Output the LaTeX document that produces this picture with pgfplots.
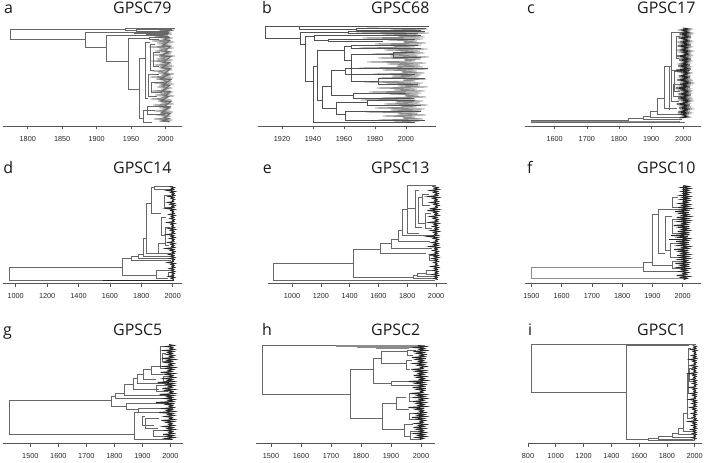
\documentclass[border=0pt]{standalone}
\usepackage{pgfplots}
\pgfplotsset{compat=1.18}
\usepackage{fontspec}
\setmainfont{Liberation Sans}
\newfontfamily\titlefont{Open Sans}
\definecolor{axgray}{HTML}{555555}
\definecolor{trdark}{HTML}{262626}
\definecolor{trmid}{HTML}{686868}
\definecolor{trlight}{HTML}{8C8C8C}
\pgfplotsset{
  treeax/.style={
    scale only axis, height=100bp, ymin=0, ymax=100,
    axis x line*=bottom, axis y line=none, ytick=\empty,
    xtick align=outside, major tick length=3.5bp,
    axis line style={draw=axgray, line width=0.6bp},
    tick style={draw=axgray, line width=0.6bp},
    xticklabel style={font=\fontsize{7.3}{8}\selectfont, text=black!85, yshift=-5bp, inner sep=1.5bp},
    /pgf/number format/assume math mode=true,
    /pgf/number format/set thousands separator={},
    clip=false, unbounded coords=jump,
    anchor=south west,
  },
  str/.style={draw=trmid, line width=0.6bp, no markers},
  thk/.style={draw=trdark, line width=0.95bp, no markers},
  thg/.style={draw=trlight, line width=0.8bp, no markers},
}
\tikzset{ttl/.style={anchor=base west, inner sep=0pt, font=\titlefont\fontsize{16}{18}\selectfont, text=black!90}}
\begin{document}
\begin{tikzpicture}
\useasboundingbox (0bp,0bp) rectangle (708bp,463bp);
% ---------- a GPSC79
\begin{axis}[treeax, at={(3bp,337bp)}, width=179bp, xmin=1764, xmax=2024, xtick={1800,1850,1900,1950,2000}]
\addplot[thg] coordinates {(1985,97)(2012,96)(1990,95)(2006,94)(1978,93)(2010,92)(1992,91)(2004,90)(1983,89)(2011,88)(1995,87)(2007,86)(1980,85)(2013,84)(1988,83)(2005,82)(1993,81)(2009,80)(1976,79)(2012,78)(1990,77)(2003,76)(1985,75)(2010,74)(1996,73)(2008,72)(1982,71)(2014,70)(1991,69)(2006,68)(1987,67)(2011,66)(1979,65)(2004,64)(1994,63)(2009,62)(1984,61)(2012,60)(1990,59)(2007,58)(1997,57)(2010,56)(1981,55)(2005,54)(1989,53)(2013,52)(1993,51)(2008,50)(1977,49)(2011,48)(1986,47)(2004,46)(1995,45)(2009,44)(1983,43)(2012,42)(1991,41)(2006,40)(1988,39)(2010,38)(1996,37)(2003,36)(1980,35)(2011,34)(1992,33)(2008,32)(1985,31)(2013,30)(1994,29)(2005,28)(1978,27)(2010,26)(1989,25)(2007,24)(1993,23)(2012,22)(1982,21)(2004,20)(1990,19)(2009,18)(1995,17)(2006,16)(1984,15)(2011,14)(1992,13)(2005,12)(1987,11)(2008,10)(1996,9)(2003,8)(1983,7)(2010,6)(1991,5)(2006,4)};
\addplot[thk, draw=trmid] coordinates {(1992,96)(2008,95.5)(1996,93.5)(2005,93)(1990,90)(2004,89.5)(1998,86)(2006,85.5)(1995,80)(2007,79.5)(1999,75)(2005,74.5)(1993,70)(2008,69.5)(1997,64)(2006,63.5)(1994,58)(2007,57.5)(1998,52)(2005,51.5)(1992,47)(2008,46.5)(1996,41)(2006,40.5)(1995,35)(2007,34.5)(1999,30)(2004,29.5)(1993,25)(2008,24.5)(1997,19)(2005,18.5)(1994,13)(2007,12.5)(1998,8)(2005,7.5)(1995,5)(2006,4.5)};
\addplot[str] coordinates {(1941,96.7)(1774,96.7)(1774,86.7)(1884,86.7)(0,nan)(1955,93.3)(1884,93.3)(1884,78.3)(1914,78.3)(0,nan)(1972,91)(1914,91)(1914,64.3)(1946,64.3)(0,nan)(1976,88)(1946,88)(1946,36.7)(1962,36.7)(0,nan)(1970,67.7)(1962,67.7)(1962,7.7)(1968,7.7)(0,nan)(2014,97.7)(1941,97.7)(1941,95.5)(1958,95.5)(0,nan)(2010,96.3)(1958,96.3)(1958,94.5)(2004,94.5)(0,nan)(2005,94)(1955,94)(1955,92.5)(2000,92.5)(0,nan)(2003,91.8)(1972,91.8)(1972,90.2)(1995,90.2)(0,nan)(2006,89)(1976,89)(1976,87)(1990,87)(0,nan)(1978,84)(1970,84)(1970,28)(1975,28)(0,nan)(1985,82)(1978,82)(1978,56)(1983,56)(0,nan)(1990,52)(1975,52)(1975,30)(1988,30)(0,nan)(1992,74)(1983,74)(1983,60)(1990,60)(0,nan)(1985,16)(1968,16)(1968,4)(1980,4)(0,nan)(2008,20)(1973,20)(1973,12)(2000,12)(0,nan)(1998,44)(1980,44)(1980,34)(1995,34)};
\end{axis}
% ---------- b GPSC68
\begin{axis}[treeax, at={(258bp,337bp)}, width=178bp, xmin=1904.5, xmax=2019.4, xtick={1920,1940,1960,1980,2000}]
\addplot[thg, line width=0.85bp] coordinates {(1975,98)(2014,97)(1990,96)(2010,95)(1968,94)(2015,93)(1985,92)(2008,91)(1995,90)(2012,89)(1972,88)(2011,87)(1988,86)(2007,85)(1998,84)(2013,83)(1980,82)(2010,81)(1992,80)(2006,79)(1970,78)(2014,77)(1986,76)(2009,75)(1996,74)(2012,73)(1978,72)(2008,71)(1990,70)(2015,69)(1982,68)(2010,67)(1999,66)(2006,65)(1975,64)(2013,63)(1988,62)(2009,61)(1994,60)(2011,59)(1970,58)(2014,57)(1985,56)(2007,55)(1997,54)(2012,53)(1979,52)(2010,51)(1991,50)(2008,49)(1983,48)(2013,47)(1998,46)(2006,45)(1973,44)(2011,43)(1987,42)(2009,41)(1995,40)(2014,39)(1981,38)(2007,37)(1992,36)(2012,35)(1976,34)(2010,33)(1989,32)(2008,31)(1999,30)(2013,29)(1984,28)(2006,27)(1971,26)(2011,25)(1993,24)(2009,23)(1986,22)(2014,21)(1997,20)(2007,19)(1980,18)(2012,17)(1990,16)(2010,15)(1974,14)(2008,13)(1995,12)(2013,11)(1985,10)(2006,9)(1998,8)(2011,7)(1982,6)(2009,5)(1992,4)};
\addplot[str, draw=trdark!80] coordinates {(1931,99.3)(1909,99.3)(1909,88)(1932,88)(0,nan)(2015,100)(1931,100)(1931,97)(1968,97)(0,nan)(2013,98)(1968,98)(1968,96)(2010,96)(0,nan)(1963,94)(1932,94)(1932,82)(1935,82)(0,nan)(2012,95)(1963,95)(1963,92.5)(2008,92.5)(0,nan)(1941,90)(1935,90)(1935,45)(1940,45)(0,nan)(2010,91)(1941,91)(1941,86)(1950,86)(0,nan)(2006,87)(1950,87)(1950,84.5)(1985,84.5)(0,nan)(1943,60)(1940,60)(1940,3.3)(2006,3.3)(0,nan)(1960,76)(1943,76)(1943,26)(1946,26)(0,nan)(1965,79.3)(1960,79.3)(1960,66)(1964.5,66)(0,nan)(2008,81)(1965,81)(1965,77.5)(2010,77.5)(0,nan)(1992,72)(1964.5,72)(1964.5,45)(1982,45)(0,nan)(1951.6,40)(1946,40)(1946,18)(1955,18)(0,nan)(1961,56)(1951.6,56)(1951.6,31)(1966,31)(0,nan)(1975,24)(1955,24)(1955,12)(1961,12)(0,nan)(2010,15)(1961,15)(1961,6)(2012,6)(0,nan)(2014,58)(1961,58)(1961,52)(2006,52)(0,nan)(2000,33)(1966,33)(1966,28)(2005,28)(0,nan)(2005,74)(1992,74)(1992,69)(2010,69)(0,nan)(2012,48)(1982,48)(1982,42)(2008,42)(0,nan)(2006,26)(1975,26)(1975,21)(2010,21)};
\end{axis}
% ---------- c GPSC17
\begin{axis}[treeax, at={(524.7bp,337bp)}, width=176bp, xmin=1507, xmax=2054, xtick={1600,1700,1800,1900,2000}]
\addplot[str] coordinates {(1830,5.6)(1526,5.6)(1526,3.6)(2005,3.6)(0,nan)(1875,7.5)(1830,7.5)(1830,4.8)(1990,4.8)(0,nan)(1898,10)(1875,10)(1875,6.2)(1995,6.2)(0,nan)(1918,15)(1898,15)(1898,8.5)(2000,8.5)(0,nan)(1940,28)(1918,28)(1918,11.5)(2000,11.5)(0,nan)(1962,60)(1940,60)(1940,18)(1980,18)(0,nan)(2005,93.7)(1962,93.7)(1962,24.3)(1985,24.3)(0,nan)(1990,90)(1978,90)(1978,68)(1988,68)(0,nan)(1995,55)(1972,55)(1972,35)(1990,35)(0,nan)(2000,42)(1968,42)(1968,30)(1995,30)(0,nan)(1955,59)(1955,16)(0,nan)(2022,56)(1962,56)};
\addplot[str, draw=trlight] coordinates {(1526,4.6)(1985,4.6)};
\addplot[thk] coordinates {(1998,98)(2020,97)(1992,96)(2016,95)(2000,94)(2022,93)(1988,92)(2018,91)(1996,90)(2024,89)(1985,88)(2015,87)(1999,86)(2021,85)(1990,84)(2017,83)(1995,82)(2023,81)(1982,80)(2019,79)(1997,78)(2014,77)(1989,76)(2022,75)(1993,74)(2018,73)(2001,72)(2020,71)(1980,70)(2016,69)(1994,68)(2024,67)(1987,66)(2019,65)(1998,64)(2015,63)(1991,62)(2021,61)(1984,60)(2017,59)(1996,58)(2023,57)(1978,56)(2018,55)(1992,54)(2020,53)(1999,52)(2014,51)(1986,50)(2022,49)(1994,48)(2016,47)(1981,46)(2019,45)(1997,44)(2024,43)(1989,42)(2017,41)(1993,40)(2021,39)(1976,38)(2015,37)(1990,36)(2020,35)(1998,34)(2018,33)(1985,32)(2023,31)(1995,30)(2016,29)(1983,28)(2019,27)(1992,26)(2022,25)(1999,24)(2015,23)(1979,22)(2020,21)(1994,20)(2017,19)(1987,18)(2021,17)(1996,16)(2014,15)(1984,14)(2018,13)(1991,12)(2012,11)(1998,10)(2016,9)(1988,8)};
\end{axis}
% ---------- d GPSC14
\begin{axis}[treeax, at={(3.3bp,179.5bp)}, width=178.7bp, xmin=921, xmax=2059, xtick={1000,1200,1400,1600,1800,2000}]
\addplot[str] coordinates {(1681,16.2)(962,16.2)(962,3.5)(2005,3.5)(0,nan)(1739,25.2)(1681,25.2)(1681,7.8)(1898,7.8)(0,nan)(1781,27)(1739,27)(1739,23.5)(1990,23.5)(0,nan)(1813,29)(1781,29)(1781,25.5)(1995,25.5)(0,nan)(1830,45)(1813,45)(1813,27.5)(1998,27.5)(0,nan)(1866,80)(1830,80)(1830,30)(1905,30)(0,nan)(1880,96.5)(1866,96.5)(1866,70)(1925,70)(0,nan)(2000,97.5)(1880,97.5)(1880,94)(2000,94)(0,nan)(1960,66)(1925,66)(1925,48)(1951,48)(0,nan)(1985,56)(1951,56)(1951,38)(1975,38)(0,nan)(1990,88)(1945,88)(1945,76)(1990,76)(0,nan)(1960,40)(1905,40)(1905,30)(1990,30)(0,nan)(1990,13)(1898,13)(1898,5)(1970,5)(0,nan)(2000,11)(1970,11)(1970,7)(2005,7)};
\addplot[str, draw=trdark] coordinates {(1558,3.5)(2005,3.5)};
\addplot[thk] coordinates {(1980,97)(2010,96)(1992,95)(2005,94)(1965,93)(2013,92)(1988,91)(2008,90)(1996,89)(2012,88)(1975,87)(2006,86)(1990,85)(2011,84)(1998,83)(2004,82)(1970,81)(2010,80)(1985,79)(2014,78)(1994,77)(2007,76)(1960,75)(2012,74)(1988,73)(2005,72)(1997,71)(2009,70)(1978,69)(2013,68)(1992,67)(2006,66)(1984,65)(2011,64)(1999,63)(2008,62)(1968,61)(2012,60)(1990,59)(2004,58)(1995,57)(2010,56)(1975,55)(2014,54)(1987,53)(2007,52)(1996,51)(2011,50)(1964,49)(2005,48)(1991,47)(2013,46)(1982,45)(2009,44)(1998,43)(2006,42)(1972,41)(2012,40)(1989,39)(2008,38)(1994,37)(2011,36)(1958,35)(2005,34)(1986,33)(2013,32)(1997,31)(2009,30)(1977,29)(2006,28)(1992,27)(2012,26)(1985,25)(2010,24)(1999,23)(2004,22)(1969,21)(2013,20)(1990,19)(2008,18)(1995,17)(2011,16)(1980,15)(2006,14)(1993,13)(2012,12)(1987,11)(2009,10)(1998,9)(2005,8)(1975,7)(2011,6)(1991,5)(2007,4)};
\end{axis}
% ---------- e GPSC13
\begin{axis}[treeax, at={(267.7bp,179.5bp)}, width=179bp, xmin=831, xmax=2074, xtick={1000,1200,1400,1600,1800,2000}]
\addplot[str] coordinates {(1426,20.2)(870,20.2)(870,3.6)(1990,3.6)(0,nan)(1611,34.5)(1426,34.5)(1426,6)(1840,6)(0,nan)(1687,40.2)(1611,40.2)(1611,30.5)(1930,30.5)(0,nan)(1738,44.5)(1687,44.5)(1687,35.5)(1970,35.5)(0,nan)(1768,52.8)(1738,52.8)(1738,42.2)(1960,42.2)(0,nan)(1803,74.5)(1768,74.5)(1768,47.8)(1985,47.8)(0,nan)(2000,97.8)(1803,97.8)(1803,50)(1880,50)(0,nan)(1803,75)(1856,75)(0,nan)(1880,93)(1856,93)(1856,56)(1900,56)(0,nan)(1903,86)(1880,86)(1880,60)(1926,60)(0,nan)(1950,89)(1903,89)(1903,78)(1960,78)(0,nan)(1965,70)(1926,70)(1926,55)(1975,55)(0,nan)(1870,8)(1840,8)(1840,5)(2005,5)(0,nan)(1935,10.5)(1870,10.5)(1870,6.8)(1995,6.8)(0,nan)(1985,13)(1935,13)(1935,8.8)(2000,8.8)(0,nan)(1990,28)(1950,28)(1950,23)(1985,23)};
\addplot[thk] coordinates {(1975,97)(2012,96)(1990,95)(2018,94)(1960,93)(2008,92)(1985,91)(2015,90)(1995,89)(2010,88)(1950,87)(2017,86)(1980,85)(2006,84)(1992,83)(2014,82)(1965,81)(2011,80)(1988,79)(2019,78)(1997,77)(2007,76)(1970,75)(2016,74)(1940,73)(2012,72)(1986,71)(2009,70)(1993,69)(2018,68)(1962,67)(2005,66)(1982,65)(2014,64)(1996,63)(2010,62)(1955,61)(2017,60)(1989,59)(2008,58)(1978,57)(2015,56)(1994,55)(2011,54)(1968,53)(2019,52)(1985,51)(2006,50)(1991,49)(2013,48)(1945,47)(2010,46)(1983,45)(2016,44)(1997,43)(2008,42)(1972,41)(2014,40)(1987,39)(2011,38)(1958,37)(2018,36)(1993,35)(2007,34)(1980,33)(2015,32)(1995,31)(2010,30)(1966,29)(2013,28)(1989,27)(2017,26)(1975,25)(2009,24)(1992,23)(2014,22)(1985,21)(2006,20)(1998,19)(2012,18)(1970,17)(2016,16)(1990,15)(2008,14)(1983,13)(2013,12)(1996,11)(2010,10)(1978,9)(2015,8)(1992,7)(2007,6)(1986,5)(2012,4)};
\end{axis}
% ---------- f GPSC10
\begin{axis}[treeax, at={(524.7bp,179.5bp)}, width=176bp, xmin=1478, xmax=2059.5, xtick={1500,1600,1700,1800,1900,2000}]
\addplot[str, draw=trlight] coordinates {(1871,16.2)(1500,16.2)(1500,5.5)(2008,5.5)};
\addplot[str] coordinates {(1899,21.2)(1871,21.2)(1871,12.2)(1990,12.2)(0,nan)(1921,69.5)(1899,69.5)(1899,18)(1965,18)(0,nan)(1990,74)(1921,74)(1921,30)(1943,30)(0,nan)(1965,67)(1943,67)(1943,33)(1960,33)(0,nan)(2000,64)(1965,64)(1965,50)(1990,50)(0,nan)(1995,40)(1960,40)(1960,26)(2000,26)(0,nan)(1985,86)(1965,86)(1965,76)(1990,76)(0,nan)(2005,22)(1965,22)(1965,15)(2000,15)};
\addplot[str, draw=trdark, line width=0.9bp] coordinates {(2012,44.5)(1956,44.5)(0,nan)(2004,97.8)(2004,20)};
\addplot[thk] coordinates {(2002,98)(2020,97)(1996,96)(2024,95)(2004,94)(2018,93)(1998,92)(2022,91)(2003,90)(2017,89)(1993,88)(2023,87)(2001,86)(2019,85)(1995,84)(2021,83)(2004,82)(2016,81)(1990,80)(2022,79)(2000,78)(2018,77)(1985,76)(2024,75)(1997,74)(2015,73)(1975,72)(2020,71)(1992,70)(2017,69)(1999,68)(2023,67)(1980,66)(2016,65)(1994,64)(2021,63)(1987,62)(2018,61)(2000,60)(2014,59)(1970,58)(2022,57)(1991,56)(2017,55)(1998,54)(2020,53)(1983,52)(2015,51)(1995,50)(2023,49)(1962,48)(2018,47)(1989,46)(2021,45)(1999,44)(2016,43)(1978,42)(2020,41)(1993,40)(2014,39)(1986,38)(2022,37)(2000,36)(2017,35)(1972,34)(2019,33)(1990,32)(2015,31)(1997,30)(2021,29)(1982,28)(2016,27)(1994,26)(2020,25)(1988,24)(2014,23)(2001,22)(2018,21)(1976,20)(2022,19)(1995,18)(2015,17)(1985,16)(2019,15)(1998,14)(2013,13)(1990,12)(2017,11)(2002,10)(2012,9)(1980,8)(2020,7)(1996,6)(2014,5)(2003,4)};
\end{axis}
% ---------- g GPSC5
\begin{axis}[treeax, at={(3.3bp,19.5bp)}, width=179.4bp, xmin=1403.6, xmax=2044, xtick={1500,1600,1700,1800,1900,2000}]
\addplot[str] coordinates {(1788,42.8)(1425,42.8)(1425,9.5)(1873,9.5)(0,nan)(1802,47.2)(1788,47.2)(1788,37.2)(1844,37.2)(0,nan)(1835,50.5)(1802,50.5)(1802,45.5)(2005,45.5)(0,nan)(1867,58.8)(1835,58.8)(1835,48.2)(1990,48.2)(0,nan)(1883,65.5)(1867,65.5)(1867,53.8)(1960,53.8)(0,nan)(1903,69)(1883,69)(1883,60)(1985,60)(0,nan)(1933,74)(1903,74)(1903,64)(1950,64)(0,nan)(1963,77.5)(1933,77.5)(1933,69)(1975,69)(0,nan)(1990,97)(1963,97)(1963,75)(1980,75)(0,nan)(2000,40.5)(1844,40.5)(1844,33.8)(1885,33.8)(0,nan)(2008,35.5)(1885,35.5)(1885,31)(1975,31)(0,nan)(1898,31.5)(1873,31.5)(1873,3.8)(2010,3.8)(0,nan)(1911,27)(1898,27)(1898,18)(1940,18)(0,nan)(1960,25)(1911,25)(1911,15)(1955,15)(0,nan)(1990,13)(1940,13)(1940,7)(2005,7)(0,nan)(1985,90)(1970,90)(1970,82)(1995,82)(0,nan)(1998,58)(1950,58)(1950,52)(1990,52)(0,nan)(2005,67)(1975,67)(1975,62)(2000,62)};
\addplot[thk] coordinates {(1995,99)(2012,98)(1985,97)(2008,96)(2000,95)(2014,94)(1978,93)(2010,92)(1992,91)(2006,90)(1988,89)(2013,88)(1998,87)(2009,86)(1970,85)(2015,84)(1990,83)(2005,82)(1982,81)(2011,80)(1996,79)(2007,78)(1975,77)(2014,76)(1987,75)(2010,74)(1993,73)(2004,72)(1965,71)(2012,70)(1985,69)(2008,68)(1997,67)(2015,66)(1978,65)(2006,64)(1991,63)(2011,62)(1955,61)(2009,60)(1988,59)(2013,58)(1995,57)(2005,56)(1972,55)(2012,54)(1983,53)(2008,52)(1999,51)(2014,50)(1962,49)(2010,48)(1990,47)(2006,46)(1980,45)(2013,44)(1994,43)(2009,42)(1948,41)(2015,40)(1986,39)(2007,38)(1997,37)(2011,36)(1975,35)(2005,34)(1989,33)(2013,32)(1960,31)(2008,30)(1993,29)(2012,28)(1981,27)(2006,26)(1998,25)(2014,24)(1968,23)(2010,22)(1987,21)(2005,20)(1995,19)(2012,18)(1977,17)(2008,16)(1991,15)(2014,14)(1984,13)(2007,12)(1996,11)(2011,10)(1973,9)(2009,8)(1989,7)(2013,6)(1982,5)(2006,4)};
\end{axis}
% ---------- h GPSC2
\begin{axis}[treeax, at={(256bp,19.5bp)}, width=179.3bp, xmin=1450, xmax=2047.8, xtick={1500,1600,1700,1800,1900,2000}]
\addplot[str] coordinates {(1717,97.8)(1472,97.8)(1472,49.5)(1763,49.5)(0,nan)(1842,73.8)(1763,73.8)(1763,25.5)(1872,25.5)(0,nan)(1867,85.5)(1842,85.5)(1842,60.5)(1900,60.5)(0,nan)(1955,92.2)(1867,92.2)(1867,80.5)(1950,80.5)(0,nan)(2008,62)(1900,62)(1900,58)(1990,58)(0,nan)(1917,40.5)(1872,40.5)(1872,13.8)(1944,13.8)(0,nan)(1950,46)(1917,46)(1917,34)(1960,34)(0,nan)(1975,19)(1944,19)(1944,7)(1965,7)(0,nan)(1985,93.5)(1955,93.5)(1955,88)(1975,88)(0,nan)(1970,83)(1950,83)(1950,74)(1965,74)(0,nan)(1990,50)(1960,50)(1960,42)(1985,42)(0,nan)(2000,30)(1960,30)(1960,24)(1990,24)(0,nan)(2005,12)(1965,12)(1965,4)(2000,4)};
\addplot[str, draw=trlight] coordinates {(2015,98.6)(1717,98.6)(1717,97)(1789,97)(0,nan)(2012,97.6)(1789,97.6)(1789,96)(1850,96)(0,nan)(2010,96.6)(1850,96.6)(1850,95)(1960,95)};
\addplot[thk] coordinates {(1990,98)(2015,97)(1980,96)(2010,95)(1996,94)(2017,93)(1975,92)(2008,91)(1988,90)(2014,89)(1998,88)(2011,87)(1970,86)(2016,85)(1985,84)(2007,83)(1994,82)(2013,81)(1978,80)(2009,79)(1991,78)(2017,77)(1999,76)(2006,75)(1968,74)(2012,73)(1986,72)(2015,71)(1993,70)(2008,69)(1976,68)(2014,67)(1989,66)(2010,65)(1997,64)(2018,63)(1960,62)(2007,61)(1984,60)(2013,59)(1995,58)(2009,57)(1972,56)(2016,55)(1988,54)(2011,53)(1999,52)(2006,51)(1965,50)(2014,49)(1990,48)(2010,47)(1980,46)(2017,45)(1996,44)(2008,43)(1974,42)(2013,41)(1987,40)(2009,39)(1993,38)(2016,37)(1958,36)(2011,35)(1985,34)(2007,33)(1997,32)(2014,31)(1978,30)(2010,29)(1991,28)(2015,27)(1970,26)(2008,25)(1989,24)(2013,23)(1998,22)(2006,21)(1982,20)(2016,19)(1994,18)(2009,17)(1975,16)(2012,15)(1988,14)(2007,13)(1996,12)(2014,11)(1980,10)(2010,9)(1992,8)(2015,7)(1985,6)(2008,5)(1997,4)};
\end{axis}
% ---------- i GPSC1
\begin{axis}[treeax, at={(528bp,19.5bp)}, width=174bp, xmin=800, xmax=2052.8, xtick={800,1000,1200,1400,1600,1800,2000}]
\addplot[str] coordinates {(2008,98.8)(824,98.8)(824,51.2)(1508,51.2)(0,nan)(1960,97.8)(1508,97.8)(1508,3.8)(1669,3.8)(0,nan)(1741,5)(1669,5)(1669,3.6)(2005,3.6)(0,nan)(1837,7)(1741,7)(1741,4.5)(1990,4.5)(0,nan)(1885,10)(1837,10)(1837,6)(2000,6)(0,nan)(1921,15)(1885,15)(1885,9)(1995,9)(0,nan)(1945,30)(1921,30)(1921,12)(2000,12)(0,nan)(1957,70)(1945,70)(1945,25)(1985,25)(0,nan)(1975,95)(1957,95)(1957,50)(1990,50)(0,nan)(1985,75)(1962,75)(1962,62)(1990,62)};
\addplot[thk] coordinates {(1985,98)(2012,97)(1995,96)(2008,95)(1975,94)(2014,93)(1990,92)(2006,91)(1998,90)(2011,89)(1980,88)(2009,87)(1993,86)(2013,85)(1965,84)(2007,83)(1988,82)(2012,81)(1997,80)(2005,79)(1972,78)(2014,77)(1991,76)(2010,75)(1983,74)(2006,73)(1996,72)(2013,71)(1960,70)(2008,69)(1989,68)(2011,67)(1994,66)(2005,65)(1977,64)(2012,63)(1992,62)(2009,61)(1985,60)(2014,59)(1999,58)(2007,57)(1968,56)(2011,55)(1990,54)(2006,53)(1995,52)(2013,51)(1974,50)(2009,49)(1987,48)(2012,47)(1997,46)(2005,45)(1962,44)(2010,43)(1991,42)(2014,41)(1982,40)(2008,39)(1995,38)(2011,37)(1970,36)(2006,35)(1988,34)(2013,33)(1998,32)(2009,31)(1978,30)(2012,29)(1993,28)(2005,27)(1985,26)(2010,25)(1996,24)(2014,23)(1958,22)(2007,21)(1990,20)(2011,19)(1981,18)(2008,17)(1994,16)(2013,15)(1975,14)(2006,13)(1992,12)(2010,11)(1986,10)(2012,9)(1997,8)(2005,7)(1980,6)(2009,5)(1993,4)};
\end{axis}
% ---------- titles and panel letters
\node[ttl] at (4bp,449.7bp) {a};
\node[ttl] at (113bp,449.7bp) {GPSC79};
\node[ttl] at (262bp,449.7bp) {b};
\node[ttl] at (371bp,449.7bp) {GPSC68};
\node[ttl] at (527bp,449.7bp) {c};
\node[ttl] at (637bp,449.7bp) {GPSC17};
\node[ttl] at (3.3bp,289bp) {d};
\node[ttl] at (113bp,289bp) {GPSC14};
\node[ttl] at (262.7bp,289bp) {e};
\node[ttl] at (371bp,289bp) {GPSC13};
\node[ttl] at (527bp,289bp) {f};
\node[ttl] at (637bp,289bp) {GPSC10};
\node[ttl] at (3bp,127bp) {g};
\node[ttl] at (113bp,127bp) {GPSC5};
\node[ttl] at (262bp,127bp) {h};
\node[ttl] at (371bp,127bp) {GPSC2};
\node[ttl] at (528bp,127bp) {i};
\node[ttl] at (637bp,127bp) {GPSC1};
\end{tikzpicture}
\end{document}
